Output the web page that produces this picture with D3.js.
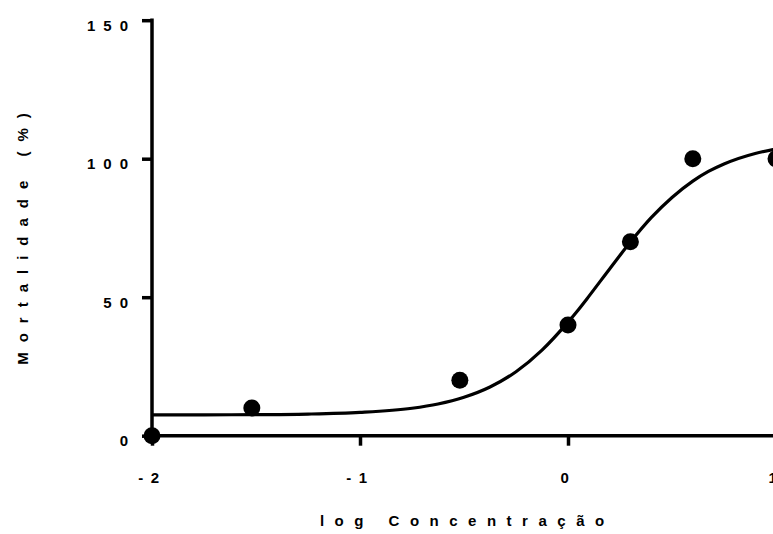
<!DOCTYPE html>
<html>
<head>
<meta charset="utf-8">
<script src="https://cdn.jsdelivr.net/npm/d3@7"></script>
<style>
  html, body { margin: 0; padding: 0; background: #fff; }
  svg { display: block; }
  text { font-family: "Liberation Sans", Arial, sans-serif; font-weight: bold; fill: #000; }
</style>
</head>
<body>
<svg id="chart" width="773" height="534"></svg>
<script>
// Data
const logConc = [-2, -1.52, -0.52, 0, 0.3, 0.6, 1];
const mortality = [0, 10, 20, 40, 70, 100, 100];

// Fitted sigmoid curve
const curveX = [-2, -1.75, -1.5, -1.25, -1, -0.75, -0.625, -0.5, -0.375, -0.25, -0.125, 0, 0.05, 0.1, 0.2, 0.3, 0.4, 0.5, 0.6, 0.675, 0.75, 0.9, 1.0, 1.05];
const curveY = [7.5, 7.55, 7.6, 7.8, 8.4, 9.9, 11.45, 13.9, 17.6, 23.1, 30.9, 41.0, 45.5, 50.3, 60.2, 69.9, 78.7, 86.0, 91.9, 95.4, 98.1, 101.9, 103.5, 104.2];

const xTicks = [-2, -1, 0, 1];
const yTicks = [0, 50, 100, 150];

const xTitle = "log Concentração";
const yTitle = "Mortalidade (%)";

const svg = d3.select("#chart");
const x = d3.scaleLinear().domain([-2, 1]).range([152, 776]);
const y = d3.scaleLinear().domain([0, 150]).range([435.7, 20.2]);

const lw = 3.5;

// Y axis
const yAxis = svg.append("g")
  .attr("transform", `translate(${x(-2)},0)`)
  .call(d3.axisLeft(y).tickValues(yTicks).tickSize(10).tickPadding(6).tickFormat(d3.format("d")));
yAxis.select(".domain").remove();
yAxis.selectAll(".tick line").attr("stroke", "#000").attr("stroke-width", lw);
yAxis.selectAll(".tick text")
  .attr("font-size", 15).attr("letter-spacing", "8px")
  .attr("dy", "0.32em").attr("y", 5);
svg.append("line")
  .attr("x1", x(-2)).attr("x2", x(-2))
  .attr("y1", y(150) - lw / 2).attr("y2", y(0))
  .attr("stroke", "#000").attr("stroke-width", lw);

// X axis
const xAxis = svg.append("g")
  .attr("transform", `translate(0,${y(0)})`)
  .call(d3.axisBottom(x).tickValues(xTicks).tickSize(10).tickFormat(d3.format("d")));
xAxis.select(".domain").remove();
xAxis.selectAll(".tick line").attr("stroke", "#000").attr("stroke-width", lw);
xAxis.selectAll(".tick text")
  .attr("font-size", 15).attr("letter-spacing", "7.5px")
  .attr("y", 37).attr("dy", "0.71em")
  .text(d => d < 0 ? "-" + Math.abs(d) : String(d));
svg.append("line")
  .attr("x1", x(-2) - lw / 2).attr("x2", 773)
  .attr("y1", y(0)).attr("y2", y(0))
  .attr("stroke", "#000").attr("stroke-width", lw);

// Curve
const line = d3.line()
  .x((d, i) => x(curveX[i]))
  .y(d => y(d))
  .curve(d3.curveMonotoneX);
svg.append("path")
  .attr("d", line(curveY))
  .attr("fill", "none")
  .attr("stroke", "#000")
  .attr("stroke-width", 3.2);

// Points
svg.append("g").selectAll("circle")
  .data(mortality)
  .join("circle")
  .attr("cx", (d, i) => x(logConc[i]))
  .attr("cy", d => y(d))
  .attr("r", 8.5)
  .attr("fill", "#000");

// Axis titles
svg.append("text")
  .attr("x", 462 + 5.3).attr("y", 526)
  .attr("text-anchor", "middle")
  .attr("font-size", 15).attr("letter-spacing", "10.5px")
  .text(xTitle);

svg.append("text")
  .attr("transform", `translate(28,${229 + 5}) rotate(-90)`)
  .attr("text-anchor", "middle")
  .attr("font-size", 15).attr("letter-spacing", "10px")
  .text(yTitle);
</script>
</body>
</html>
